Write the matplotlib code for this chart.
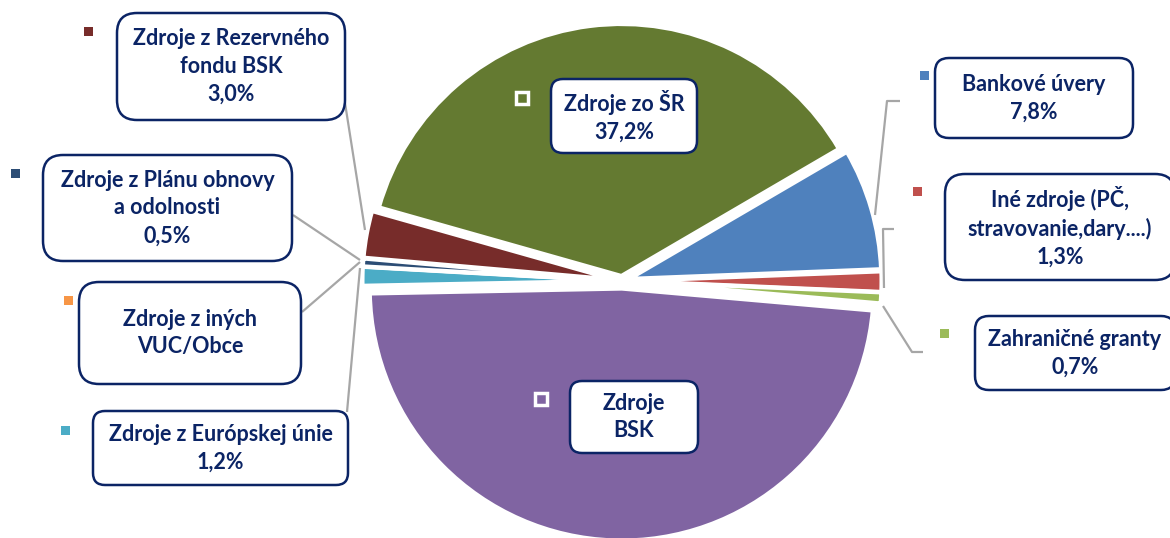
import matplotlib.pyplot as plt
from matplotlib.patches import FancyBboxPatch, Rectangle

W, H = 1170, 538

# clockwise from the right side, starting with "Zdroje BSK"
labels = ['Zdroje\nBSK', 'Zdroje z Európskej únie', 'Zdroje z iných\nVUC/Obce',
          'Zdroje z Plánu obnovy\na odolnosti', 'Zdroje z Rezervného\nfondu BSK',
          'Zdroje zo ŠR', 'Bankové úvery', 'Iné zdroje (PČ,\nstravovanie,dary....)',
          'Zahraničné granty']
shares = [48.3, 1.2, 0.0, 0.5, 3.0, 37.2, 7.8, 1.3, 0.7]
show_pct = [False, True, False, True, True, True, True, True, True]
colors = ['#8064A2', '#4BACC6', '#F79646', '#2C4D75', '#772C2A',
          '#647A31', '#4F81BD', '#C0504D', '#9BBB59']
explode_frac = [0.03, 0.03, 0.03, 0.03, 0.03, 0.02, 0.03, 0.03, 0.03]

navy = '#0B2465'
grey = '#A6A6A6'

# label boxes in pixel coords (x0, y0_top, x1, y1_bottom), marker pos, corner radius
boxes = [
    ((570, 381, 698, 453), (541, 399), 12),
    ((93, 411, 348, 485), (65, 430), 12),
    ((79, 282, 301, 384), (68, 300), 20),
    ((43, 155, 292, 261), (15, 173), 20),
    ((117, 13, 345, 120), (88, 31), 20),
    ((551, 79, 697, 153), (522, 98), 12),
    ((935, 58, 1133, 138), (924, 75), 14),
    ((945, 174, 1175, 280), (917, 191), 20),
    ((975, 316, 1175, 390), (944, 333), 14),
]

leaders = [
    [(345, 103), (365, 230)],
    [(293, 215), (360, 260)],
    [(302, 312), (360, 262)],
    [(347, 412), (360, 268)],
    [(900, 101), (887, 101), (875, 215)],
    [(894, 229), (883, 229), (884, 288)],
    [(883, 306), (912, 352), (923, 352)],
]


def Y(y):
    return H - y


R = 252
fig = plt.figure(figsize=(11.7, 5.38), dpi=100)
ax = fig.add_axes([0, 0, 1, 1])

ax.pie(shares, colors=colors, startangle=-5, counterclock=False,
       center=(622, Y(281)), radius=R, explode=[f * R for f in explode_frac],
       wedgeprops=dict(edgecolor='white', linewidth=3))

ax.set_xlim(0, W)
ax.set_ylim(0, H)
ax.set_aspect('equal')
ax.axis('off')

for pts in leaders:
    ax.plot([p[0] for p in pts], [Y(p[1]) for p in pts], color=grey, lw=1.6,
            solid_capstyle='butt', zorder=3)

for i, (lab, val, col) in enumerate(zip(labels, shares, colors)):
    (x0, y0, x1, y1), (mx, my), rad = boxes[i]
    box = FancyBboxPatch((x0 + rad, Y(y1) + rad), (x1 - x0) - 2 * rad, (y1 - y0) - 2 * rad,
                         boxstyle=f'round,pad={rad}', fc='white', ec=navy, lw=1.8,
                         zorder=5, clip_on=False)
    ax.add_patch(box)
    txt = lab + (f'\n{val:.1f}%'.replace('.', ',') if show_pct[i] else '')
    ax.text((x0 + x1) / 2, Y((y0 + y1) / 2), txt, ha='center', va='center',
            fontsize=15.5, fontweight='bold', color=navy, family='Lato',
            linespacing=1.4, zorder=6)
    if lab in ('Zdroje\nBSK', 'Zdroje zo ŠR'):
        ax.add_patch(Rectangle((mx - 6, Y(my) - 6), 12, 12, fc=col, ec='white',
                               lw=2.5, zorder=6))
    else:
        ax.add_patch(Rectangle((mx - 4.5, Y(my) - 4.5), 9, 9, fc=col, ec='none',
                               zorder=6))

fig.savefig('out.png', dpi=100)
